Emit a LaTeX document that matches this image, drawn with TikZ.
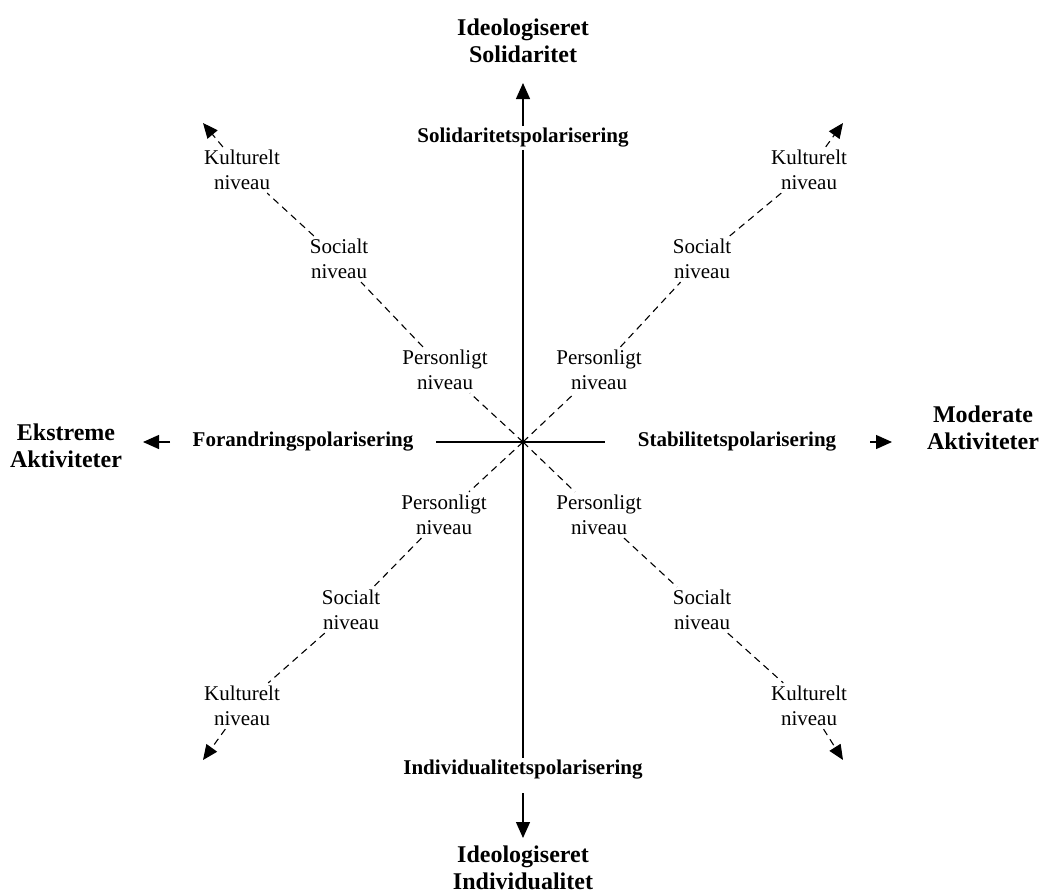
\documentclass[tikz,border=0pt]{standalone}
\usepackage{fontspec}
\setmainfont{Liberation Serif}
\usetikzlibrary{arrows.meta}
\begin{document}
\begin{tikzpicture}[x=1pt,y=-1pt,
  lvl/.style={font=\fontsize{21}{25}\selectfont, align=center, inner sep=3pt},
  pol/.style={font=\fontsize{21}{25}\selectfont\bfseries, inner sep=2pt},
  pole/.style={font=\fontsize{24}{27}\selectfont\bfseries, align=center, inner sep=1pt},
  axis/.style={line width=1.3pt},
  tip/.style={-{Triangle[length=16pt,width=14pt]}},
  dtip/.style={-{Triangle[length=15pt,width=13pt]}},
  dsh/.style={line width=1.1pt, dash pattern=on 7pt off 5pt}]
\useasboundingbox (0,0) rectangle (1041,895);

% poles
\node[pole] (north) at (523,41) {Ideologiseret\\Solidaritet};
\node[pole] (south) at (523,868) {Ideologiseret\\Individualitet};
\node[pole] (west) at (66,446) {Ekstreme\\Aktiviteter};
\node[pole] (east) at (983,428) {Moderate\\Aktiviteter};

% axis labels
\node[pol] (solpol) at (523,138) {Solidaritetspolarisering};
\node[pol] (indpol) at (523,770) {Individualitetspolarisering};
\node[pol] (forpol) at (303,442) {Forandringspolarisering};
\node[pol] (stabpol) at (737,442) {Stabilitetspolarisering};

\coordinate (c) at (523,442);
\coordinate (nT) at (523,83);
\coordinate (sS) at (523,793);
\coordinate (sT) at (523,838);
\coordinate (wS) at (170,442);
\coordinate (wT) at (143,442);
\coordinate (eS) at (870,442);
\coordinate (eT) at (892,442);
\coordinate (hL) at (436,442);
\coordinate (hR) at (605,442);

% axes
\draw[axis] (solpol) -- (indpol);
\draw[axis] (hL) -- (hR);
\draw[axis,tip] (solpol) -- (nT);
\draw[axis,tip] (sS) -- (sT);
\draw[axis,tip] (wS) -- (wT);
\draw[axis,tip] (eS) -- (eT);

% diagonal labels
\node[lvl] (ulK) at (242,170) {Kulturelt\\niveau};
\node[lvl] (ulS) at (339,259) {Socialt\\niveau};
\node[lvl] (ulP) at (445,370) {Personligt\\niveau};
\node[lvl] (urK) at (809,170) {Kulturelt\\niveau};
\node[lvl] (urS) at (702,259) {Socialt\\niveau};
\node[lvl] (urP) at (599,370) {Personligt\\niveau};
\node[lvl] (llP) at (444,515) {Personligt\\niveau};
\node[lvl] (llS) at (351,610) {Socialt\\niveau};
\node[lvl] (llK) at (242,706) {Kulturelt\\niveau};
\node[lvl] (lrP) at (599,515) {Personligt\\niveau};
\node[lvl] (lrS) at (702,610) {Socialt\\niveau};
\node[lvl] (lrK) at (809,706) {Kulturelt\\niveau};

\coordinate (ulT) at (203,123);
\coordinate (urT) at (843,123);
\coordinate (llT) at (203,760);
\coordinate (lrT) at (843,760);

% diagonals
\draw[dsh] (c) -- (ulP);
\draw[dsh] (ulP) -- (ulS);
\draw[dsh] (ulS) -- (ulK);
\draw[dsh,dtip] (ulK) -- (ulT);
\draw[dsh] (c) -- (urP);
\draw[dsh] (urP) -- (urS);
\draw[dsh] (urS) -- (urK);
\draw[dsh,dtip] (urK) -- (urT);
\draw[dsh] (c) -- (llP);
\draw[dsh] (llP) -- (llS);
\draw[dsh] (llS) -- (llK);
\draw[dsh,dtip] (llK) -- (llT);
\draw[dsh] (c) -- (lrP);
\draw[dsh] (lrP) -- (lrS);
\draw[dsh] (lrS) -- (lrK);
\draw[dsh,dtip] (lrK) -- (lrT);
\end{tikzpicture}
\end{document}
